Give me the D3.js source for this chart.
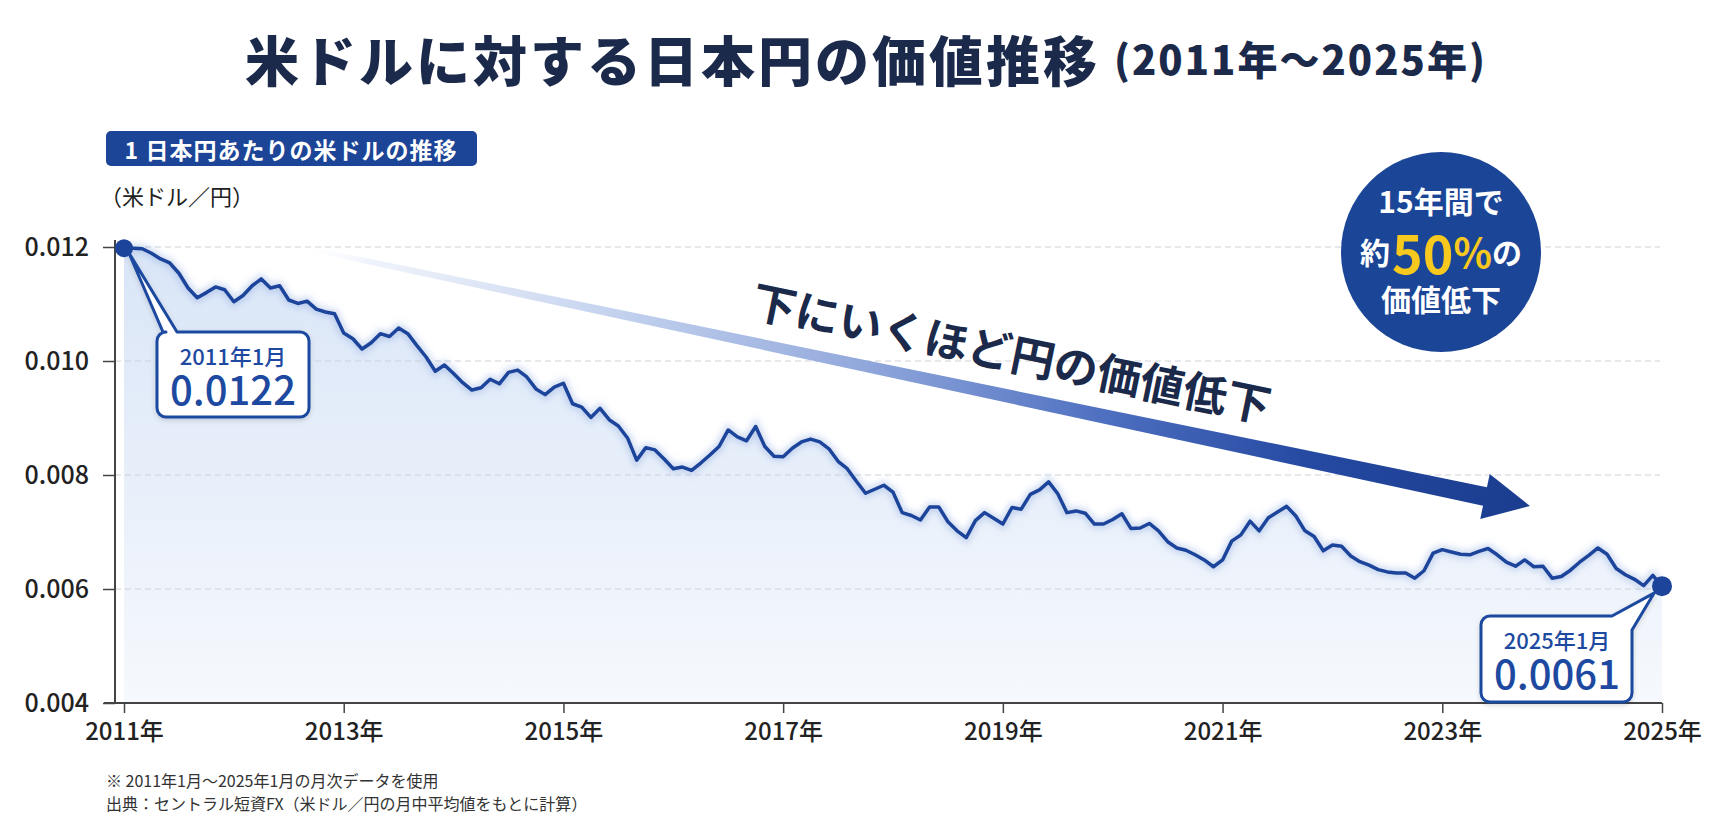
<!DOCTYPE html>
<html lang="ja">
<head>
<meta charset="utf-8">
<script src="https://cdn.jsdelivr.net/npm/d3@7"></script>
<style>
  html, body { margin: 0; padding: 0; background: #fff; }
  svg { display: block; font-family: "Noto Sans CJK JP", "Noto Sans", sans-serif; }
</style>
</head>
<body>
<svg id="chart" width="1717" height="826"></svg>
<script>
// Monthly USD per 1 JPY, Jan 2011 .. Jan 2025
const startYear = 2011;
const monthlyRate = [
  0.01198, 0.01198, 0.01197, 0.01189, 0.01179, 0.01172, 0.01154, 0.01128, 0.01111, 0.01120, 0.01130, 0.01125,
  0.01104, 0.01115, 0.01132, 0.01144, 0.01128, 0.01132, 0.01107, 0.01101, 0.01105, 0.01091, 0.01086, 0.01083,
  0.01049, 0.01039, 0.01021, 0.01032, 0.01048, 0.01043, 0.01058, 0.01048, 0.01027, 0.01007, 0.00982, 0.00993,
  0.00978, 0.00962, 0.00949, 0.00953, 0.00968, 0.00960, 0.00980, 0.00984, 0.00972, 0.00951, 0.00941, 0.00954,
  0.00961, 0.00925, 0.00919, 0.00901, 0.00917, 0.00897, 0.00886, 0.00865, 0.00826, 0.00848, 0.00844, 0.00828,
  0.00811, 0.00814, 0.00808, 0.00821, 0.00835, 0.00850, 0.00879, 0.00867, 0.00860, 0.00885, 0.00850, 0.00833,
  0.00832, 0.00847, 0.00858, 0.00863, 0.00858, 0.00846, 0.00824, 0.00811, 0.00789, 0.00768, 0.00775, 0.00782,
  0.00770, 0.00734, 0.00729, 0.00721, 0.00744, 0.00744, 0.00718, 0.00702, 0.00690, 0.00720, 0.00734, 0.00724,
  0.00714, 0.00743, 0.00740, 0.00766, 0.00774, 0.00788, 0.00767, 0.00734, 0.00737, 0.00733, 0.00714, 0.00714,
  0.00722, 0.00732, 0.00706, 0.00707, 0.00715, 0.00702, 0.00683, 0.00672, 0.00668, 0.00660, 0.00651, 0.00639,
  0.00651, 0.00684, 0.00695, 0.00719, 0.00702, 0.00725, 0.00735, 0.00745, 0.00728, 0.00702, 0.00692, 0.00667,
  0.00677, 0.00675, 0.00658, 0.00648, 0.00642, 0.00634, 0.00630, 0.00628, 0.00628, 0.00619, 0.00632, 0.00663,
  0.00669, 0.00665, 0.00661, 0.00660, 0.00666, 0.00671, 0.00660, 0.00647, 0.00640, 0.00651, 0.00639, 0.00640,
  0.00619, 0.00622, 0.00633, 0.00647, 0.00659, 0.00672, 0.00661, 0.00636, 0.00625, 0.00617, 0.00606, 0.00624,
  0.00605
];
const xTickYears = [2011, 2013, 2015, 2017, 2019, 2021, 2023, 2025];
const yTickValues = [0.004, 0.006, 0.008, 0.010, 0.012];
const gridValues = [0.006, 0.008, 0.010, 0.012];

const mainTitle = "米ドルに対する日本円の価値推移";
const subTitle = "(2011年〜2025年)";
const seriesLabel = "1 日本円あたりの米ドルの推移";
const unitLabel = "（米ドル／円）";
const startCallout = ["2011年1月", "0.0122"];
const endCallout = ["2025年1月", "0.0061"];
const arrowText = "下にいくほど円の価値低下";
const badgeTop = "15年間で";
const badgeMid = ["約", "50", "%", "の"];
const badgeBottom = "価値低下";
const notes = [
  "※ 2011年1月〜2025年1月の月次データを使用",
  "出典：セントラル短資FX（米ドル／円の月中平均値をもとに計算）"
];

const data = monthlyRate.map((v, i) => ({ t: startYear + i / 12, v: v }));

const navy = "#1c449b";
const ink = "#1b2a4a";

const svg = d3.select('#chart');

// scales
const x = d3.scaleLinear().domain([2011, 2025]).range([124, 1662]);
const y = d3.scaleLinear().domain([0.004, 0.012]).range([703, 247]);

// defs: gradients and filters
const defs = svg.append('defs');

const areaGrad = defs.append('linearGradient')
  .attr('id', 'areaGrad').attr('x1', 0).attr('y1', 0).attr('x2', 0).attr('y2', 1);
areaGrad.append('stop').attr('offset', '0%').attr('stop-color', '#d9e5f7');
areaGrad.append('stop').attr('offset', '55%').attr('stop-color', '#e9f0fa');
areaGrad.append('stop').attr('offset', '100%').attr('stop-color', '#f6f9fd');

const arrowGrad = defs.append('linearGradient')
  .attr('id', 'arrowGrad').attr('gradientUnits', 'userSpaceOnUse')
  .attr('x1', 0).attr('y1', 0).attr('x2', 1257).attr('y2', 0);
[
  ['0%', '#ffffff', 0],
  ['6%', '#e8eef9', 0.7],
  ['25%', '#c6d4ef', 1],
  ['45%', '#95abdd', 1],
  ['65%', '#5172c2', 1],
  ['82%', '#2649a2', 1],
  ['100%', '#1a3d8f', 1]
].forEach(s => {
  arrowGrad.append('stop').attr('offset', s[0]).attr('stop-color', s[1]).attr('stop-opacity', s[2]);
});

defs.append('filter').attr('id', 'glow').attr('x', '-5%').attr('y', '-5%').attr('width', '110%').attr('height', '110%')
  .append('feGaussianBlur').attr('stdDeviation', 3);

const shadow = defs.append('filter').attr('id', 'shadow')
  .attr('x', '-10%').attr('y', '-10%').attr('width', '120%').attr('height', '130%');
shadow.append('feDropShadow').attr('dx', 0).attr('dy', 2).attr('stdDeviation', 2.5)
  .attr('flood-color', '#000').attr('flood-opacity', 0.15);

// title
const title = svg.append('text')
  .attr('x', 245).attr('y', 58)
  .attr('dominant-baseline', 'central')
  .attr('fill', ink)
  .attr('font-size', 54)
  .attr('font-weight', 900)
  .attr('letter-spacing', 3)
  .text(mainTitle);
title.append('tspan')
  .attr('dx', 14)
  .attr('font-size', 40)
  .attr('letter-spacing', 2)
  .text(subTitle);

// series label box
svg.append('rect')
  .attr('x', 106).attr('y', 131).attr('width', 371).attr('height', 35)
  .attr('rx', 5).attr('fill', '#1d4597');
svg.append('text')
  .attr('x', 291).attr('y', 149)
  .attr('text-anchor', 'middle').attr('dominant-baseline', 'central')
  .attr('fill', '#fff').attr('font-size', 23).attr('font-weight', 700)
  .attr('letter-spacing', 1)
  .text(seriesLabel);

svg.append('text')
  .attr('x', 100).attr('y', 195)
  .attr('dominant-baseline', 'central')
  .attr('fill', '#222').attr('font-size', 22)
  .text(unitLabel);

// area under the line
const area = d3.area()
  .x(d => x(d.t))
  .y0(y(0.004))
  .y1(d => y(d.v));

svg.append('path')
  .datum(data)
  .attr('d', area)
  .attr('fill', 'url(#areaGrad)');

// grid lines
svg.append('g')
  .selectAll('line')
  .data(gridValues)
  .join('line')
  .attr('x1', 115).attr('x2', 1660)
  .attr('y1', d => y(d)).attr('y2', d => y(d))
  .attr('stroke', '#cdd1d8')
  .attr('stroke-width', 1)
  .attr('stroke-dasharray', '6 4');

// the line, with a soft glow beneath it
const line = d3.line()
  .x(d => x(d.t))
  .y(d => y(d.v));

svg.append('path')
  .datum(data)
  .attr('d', line)
  .attr('fill', 'none')
  .attr('stroke', '#7c9ddb')
  .attr('stroke-opacity', 0.35)
  .attr('stroke-width', 9)
  .attr('filter', 'url(#glow)');

svg.append('path')
  .datum(data)
  .attr('d', line)
  .attr('fill', 'none')
  .attr('stroke', navy)
  .attr('stroke-width', 3.5)
  .attr('stroke-linejoin', 'round');

// axes
const xAxis = svg.append('g')
  .attr('transform', `translate(0, ${y(0.004)})`)
  .call(d3.axisBottom(x).tickValues(xTickYears).tickSize(10).tickFormat(d => d + '年'));
xAxis.select('.domain').remove();
xAxis.selectAll('line').attr('stroke', '#444').attr('stroke-width', 1.5);
xAxis.selectAll('text')
  .attr('y', 26).attr('dy', null)
  .attr('dominant-baseline', 'central')
  .attr('fill', '#222').attr('font-size', 24).attr('font-weight', 500)
  .attr('font-family', '"Noto Sans CJK JP", sans-serif');

const yAxis = svg.append('g')
  .attr('transform', 'translate(115, 0)')
  .call(d3.axisLeft(y).tickValues(yTickValues).tickSize(12).tickPadding(14).tickFormat(d3.format('.3f')));
yAxis.select('.domain').remove();
yAxis.selectAll('line').attr('stroke', '#444').attr('stroke-width', 1.5);
yAxis.selectAll('text')
  .attr('fill', '#222').attr('font-size', 25).attr('font-weight', 500)
  .attr('font-family', '"Noto Sans CJK JP", sans-serif');

svg.append('line')
  .attr('x1', 115).attr('x2', 115).attr('y1', 240).attr('y2', y(0.004))
  .attr('stroke', '#444').attr('stroke-width', 2);
svg.append('line')
  .attr('x1', 104).attr('x2', x(2025)).attr('y1', y(0.004)).attr('y2', y(0.004))
  .attr('stroke', '#444').attr('stroke-width', 2);

// big trend arrow
const arrowStart = [295, 246];
const arrowTip = [1530, 506];
const arrowLen = Math.hypot(arrowTip[0] - arrowStart[0], arrowTip[1] - arrowStart[1]);
const arrowAngle = Math.atan2(arrowTip[1] - arrowStart[1], arrowTip[0] - arrowStart[0]) * 180 / Math.PI;
const headLen = 46;
const arrowPath = d3.path();
arrowPath.moveTo(0, -2.5);
arrowPath.lineTo(arrowLen - headLen, -9.5);
arrowPath.lineTo(arrowLen - headLen, -23);
arrowPath.lineTo(arrowLen, 0);
arrowPath.lineTo(arrowLen - headLen, 23);
arrowPath.lineTo(arrowLen - headLen, 9.5);
arrowPath.lineTo(0, 2.5);
arrowPath.closePath();

svg.append('g')
  .attr('transform', `translate(${arrowStart[0]}, ${arrowStart[1]}) rotate(${arrowAngle})`)
  .append('path')
  .attr('d', arrowPath.toString())
  .attr('fill', 'url(#arrowGrad)');

svg.append('text')
  .attr('transform', 'translate(1012, 351) rotate(11.6)')
  .attr('text-anchor', 'middle').attr('dominant-baseline', 'central')
  .attr('fill', ink).attr('font-size', 44).attr('font-weight', 700)
  .text(arrowText);

// badge
const badge = svg.append('g').attr('transform', 'translate(1441, 252)');
badge.append('circle').attr('r', 100).attr('fill', '#1b4596');
badge.append('text')
  .attr('y', -52).attr('text-anchor', 'middle').attr('dominant-baseline', 'central')
  .attr('fill', '#fff').attr('font-size', 30).attr('font-weight', 700)
  .text(badgeTop);
const mid = badge.append('text')
  .attr('y', -1).attr('text-anchor', 'middle').attr('dominant-baseline', 'central')
  .attr('fill', '#fff').attr('font-weight', 700);
mid.append('tspan').attr('font-size', 30).text(badgeMid[0]);
mid.append('tspan').attr('font-size', 52).attr('fill', '#f7c81e').attr('dx', 2).text(badgeMid[1]);
mid.append('tspan').attr('font-size', 40).attr('fill', '#f7c81e').text(badgeMid[2]);
mid.append('tspan').attr('font-size', 30).text(badgeMid[3]);
badge.append('text')
  .attr('y', 46).attr('text-anchor', 'middle').attr('dominant-baseline', 'central')
  .attr('fill', '#fff').attr('font-size', 30).attr('font-weight', 700)
  .text(badgeBottom);

// callout bubbles
const first = data[0];
const last = data[data.length - 1];
const p0 = [x(first.t), y(first.v)];
const p1 = [x(last.t), y(last.v)];

const bubbleStart = (x0, y0, x1, y1, r, apex) => {
  const p = d3.path();
  p.moveTo(x0 + r, y0);
  p.lineTo(163, y0);
  p.lineTo(apex[0], apex[1]);
  p.lineTo(177, y0);
  p.lineTo(x1 - r, y0);
  p.arcTo(x1, y0, x1, y0 + r, r);
  p.lineTo(x1, y1 - r);
  p.arcTo(x1, y1, x1 - r, y1, r);
  p.lineTo(x0 + r, y1);
  p.arcTo(x0, y1, x0, y1 - r, r);
  p.lineTo(x0, y0 + r);
  p.arcTo(x0, y0, x0 + r, y0, r);
  p.closePath();
  return p.toString();
};

const bubbleEnd = (x0, y0, x1, y1, r, apex) => {
  const p = d3.path();
  p.moveTo(x0 + r, y0);
  p.lineTo(1612, y0);
  p.lineTo(apex[0], apex[1]);
  p.lineTo(x1, y0 + 14);
  p.lineTo(x1, y1 - r);
  p.arcTo(x1, y1, x1 - r, y1, r);
  p.lineTo(x0 + r, y1);
  p.arcTo(x0, y1, x0, y1 - r, r);
  p.lineTo(x0, y0 + r);
  p.arcTo(x0, y0, x0 + r, y0, r);
  p.closePath();
  return p.toString();
};

svg.append('path')
  .attr('d', bubbleStart(157, 332, 309, 417, 9, [p0[0] + 5, p0[1] + 5]))
  .attr('fill', '#fff').attr('stroke', '#1d4aa0').attr('stroke-width', 3)
  .attr('stroke-linejoin', 'round')
  .attr('filter', 'url(#shadow)');

svg.append('path')
  .attr('d', bubbleEnd(1481, 616, 1632, 702, 9, [p1[0] - 8, p1[1] + 7]))
  .attr('fill', '#fff').attr('stroke', '#1d4aa0').attr('stroke-width', 3)
  .attr('stroke-linejoin', 'round')
  .attr('filter', 'url(#shadow)');

const calloutText = (cx, cy, lines) => {
  svg.append('text')
    .attr('x', cx).attr('y', cy)
    .attr('text-anchor', 'middle').attr('dominant-baseline', 'central')
    .attr('fill', '#1d4aa0').attr('font-size', 22).attr('font-weight', 500)
    .text(lines[0]);
  svg.append('text')
    .attr('x', cx).attr('y', cy + 33)
    .attr('text-anchor', 'middle').attr('dominant-baseline', 'central')
    .attr('fill', '#1d4aa0').attr('font-size', 40).attr('font-weight', 500)
    .text(lines[1]);
};
calloutText(233, 355, startCallout);
calloutText(1557, 639, endCallout);

// end point dots
svg.append('circle').attr('cx', p0[0]).attr('cy', p0[1]).attr('r', 9).attr('fill', navy);
svg.append('circle').attr('cx', p1[0]).attr('cy', p1[1]).attr('r', 10).attr('fill', navy);

// footnotes
svg.append('g')
  .selectAll('text')
  .data(notes)
  .join('text')
  .attr('x', 106)
  .attr('y', (d, i) => 780 + i * 23)
  .attr('dominant-baseline', 'central')
  .attr('fill', '#333').attr('font-size', 16)
  .text(d => d);
</script>
</body>
</html>
